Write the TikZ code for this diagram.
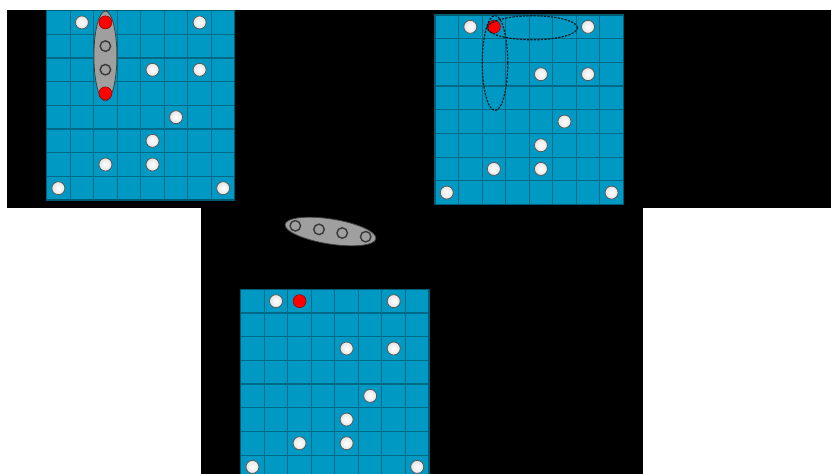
\documentclass[tikz,border=0pt]{standalone}
\usetikzlibrary{shapes.geometric}
\definecolor{board}{HTML}{0099C4}
\definecolor{boardline}{HTML}{006A87}
\definecolor{boardedge}{HTML}{005C75}
\definecolor{hollow}{HTML}{383838}
\tikzset{
  wstone/.style={circle, minimum size=13pt, inner sep=0pt, draw=gray!70!black, line width=0.8pt, inner color=white, outer color=gray!20},
  rstone/.style={circle, minimum size=13pt, inner sep=0pt, fill=red, draw=red!55!black, line width=0.5pt},
  hstone/.style={circle, minimum size=10.5pt, inner sep=0pt, draw=hollow, line width=1.4pt},
  grpfill/.style={ellipse, inner sep=0pt, fill=gray!75, draw=black!75, line width=0.8pt},
  grpdash/.style={ellipse, inner sep=0pt, draw=black!70!boardedge, dash pattern=on 2.2pt off 1.3pt, line width=1.2pt},
  bgblack/.style={fill=black},
  cellline/.style={draw=boardline, line width=1.1pt},
  boardrim/.style={draw=boardedge, line width=1.1pt}
}
\newcommand\myboard[3]{%
  \begin{scope}[shift={(#2,#3)}, xscale=23.54, yscale=23.68]
    \fill[board] (0,0) rectangle (8,8);
    \foreach \k in {1,...,7} {
      \draw[cellline] (\k,0) -- (\k,8);
      \draw[cellline] (0,\k) -- (8,\k);
    }
    \draw[boardrim] (0,0) rectangle (8,8);
    \coordinate (#1o) at (0,0);
  \end{scope}}
\newcommand\mywhites[3]{%
  \begin{scope}[shift={(#2,#3)}, xscale=23.54, yscale=23.68]
    \foreach \c/\r in {1/0,6/0,4/2,6/2,5/4,4/5,2/6,4/6,0/7,7/7}
      \node[wstone] (#1w\c\r) at (\c+0.5,\r+0.5) {};
  \end{scope}}
\begin{document}
\begin{tikzpicture}[x=1pt, y=-1pt]
  \useasboundingbox (0,0) rectangle (831,474);
  \clip (0,0) rectangle (831,474);
  \fill[white] (0,0) rectangle (831,474);
  % black panels
  \fill[bgblack] (7,10) rectangle (831,208);
  \fill[bgblack] (201,207.5) rectangle (643,474);

  % ---------- board 1 ----------
  \myboard{A}{46.6}{10.6}
  \node[grpfill, minimum width=23pt, minimum height=90pt] (Agrp) at (105.4,56) {};
  \mywhites{A}{46.6}{10.6}
  \node[rstone] (Ar20) at (105.4,22.4) {};
  \node[hstone] (Ah21) at (105.4,46.1) {};
  \node[hstone] (Ah22) at (105.4,69.7) {};
  \node[rstone] (Ar23) at (105.4,93.4) {};

  % ---------- board 2 ----------
  \myboard{B}{435}{15}
  \mywhites{B}{435}{15}
  \node[rstone] (Br20) at (493.9,26.8) {};
  \node[grpdash, minimum width=90pt, minimum height=24pt] (Bgh) at (532.5,27.8) {};
  \node[grpdash, minimum width=25.5pt, minimum height=95pt] (Bgv) at (495,63) {};

  % ---------- board 3 ----------
  \myboard{C}{240.7}{289.3}
  \mywhites{C}{240.7}{289.3}
  \node[rstone] (Cr20) at (299.6,301.1) {};
  \node[grpfill, rotate=-9, minimum width=92pt, minimum height=25pt] (Cgrp) at (330.5,231.5) {};
  \node[hstone] (Ch1) at (295.3,225.8) {};
  \node[hstone] (Ch2) at (319.0,229.4) {};
  \node[hstone] (Ch3) at (342.2,233.0) {};
  \node[hstone] (Ch4) at (365.7,236.7) {};
\end{tikzpicture}
\end{document}
